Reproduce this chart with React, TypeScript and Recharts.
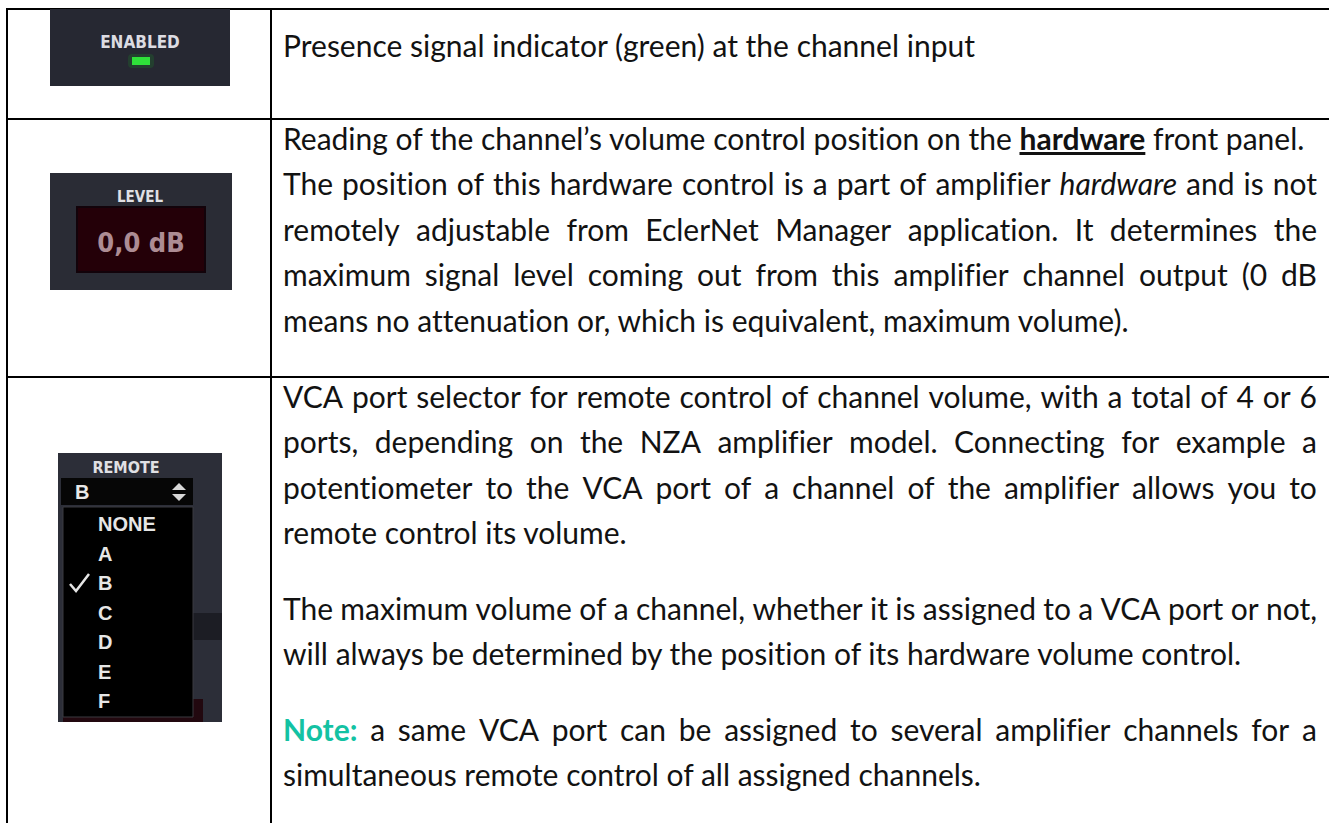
import React from "react"
import { Surface, Rectangle, Text, Polygon, Curve } from "recharts"

// cell texts, one string per printed line
const enabledParagraphs = [["Presence signal indicator (green) at the channel input"]]

const levelParagraphs = [
  ["Reading of the channel’s volume control position on the __hardware__ front panel."],
  [
    "The position of this hardware control is a part of amplifier *hardware* and is not",
    "remotely adjustable from EclerNet Manager application. It determines the",
    "maximum signal level coming out from this amplifier channel output (0 dB",
    "means no attenuation or, which is equivalent, maximum volume).",
  ],
]

const remoteParagraphs = [
  [
    "VCA port selector for remote control of channel volume, with a total of 4 or 6",
    "ports, depending on the NZA amplifier model. Connecting for example a",
    "potentiometer to the VCA port of a channel of the amplifier allows you to",
    "remote control its volume.",
  ],
  [
    "The maximum volume of a channel, whether it is assigned to a VCA port or not,",
    "will always be determined by the position of its hardware volume control.",
  ],
  [
    "!Note:! a same VCA port can be assigned to several amplifier channels for a",
    "simultaneous remote control of all assigned channels.",
  ],
]

const enabledLabel = "ENABLED"
const levelLabel = "LEVEL"
const levelValue = "0,0 dB"
const remoteLabel = "REMOTE"
const remoteOptions = ["NONE", "A", "B", "C", "D", "E", "F"]
const remoteSelected = "B"

const TEXT_X = 283
const TEXT_W = 1034
const LH = 45.5
const FONT = 30
const BASE_OFF = 34.4 // Lato baseline inside a 45.5px line box at 30px
const LINE = "#000"

const uiFont = "'DejaVu Sans Condensed', 'DejaVu Sans', sans-serif"
const listFont = "'Liberation Sans', Arial, sans-serif"

function Word({ token }: { token: string }) {
  if (token.startsWith("__"))
    return <span style={{ fontWeight: 700, textDecoration: "underline" }}>{token.slice(2, -2)}</span>
  if (token.startsWith("*")) return <span style={{ fontStyle: "italic" }}>{token.slice(1, -1)}</span>
  if (token.startsWith("!"))
    return <span style={{ fontWeight: 700, color: "#13c2a3" }}>{token.slice(1, -1)}</span>
  return <span>{token}</span>
}

function TextLine({ text, justify, top }: { text: string; justify: boolean; top: number }) {
  const words = text.split(" ")
  const base: React.CSSProperties = {
    position: "absolute",
    left: TEXT_X,
    top,
    width: TEXT_W,
    height: LH,
    lineHeight: `${LH}px`,
    whiteSpace: "nowrap",
  }
  if (justify) {
    return (
      <div style={{ ...base, display: "flex", justifyContent: "space-between", alignItems: "baseline" }}>
        {words.map((w, i) => (
          <Word key={i} token={w} />
        ))}
      </div>
    )
  }
  return (
    <div style={base}>
      {words.map((w, i) => (
        <React.Fragment key={i}>
          {i > 0 ? " " : null}
          <Word token={w} />
        </React.Fragment>
      ))}
    </div>
  )
}

function Cell({ paragraphs, firstBaseline, gap }: { paragraphs: string[][]; firstBaseline: number; gap: number }) {
  const out: React.ReactNode[] = []
  let y = firstBaseline
  paragraphs.forEach((p, pi) => {
    p.forEach((line, li) => {
      out.push(<TextLine key={`${pi}-${li}`} text={line} justify={li < p.length - 1} top={y - BASE_OFF} />)
      y += LH
    })
    y += gap
  })
  return <>{out}</>
}

function EnabledIcon() {
  return (
    <Surface width={180} height={77} style={{ position: "absolute", left: 50, top: 9 }}>
      <Rectangle x={0} y={0} width={180} height={77} fill="#262832" />
      <Text x={90} y={33} textAnchor="middle" verticalAnchor="middle" fill="#dcdce2" fontSize={17}
        fontWeight={700} fontFamily={uiFont} style={{ fontStretch: "condensed" }}>
        {enabledLabel}
      </Text>
      <Rectangle x={78} y={45} width={26} height={14} fill="#1f6b2a" opacity={0.35} radius={4} />
      <Rectangle x={82} y={48} width={18} height={8} fill="#2fe03a" />
    </Surface>
  )
}

function LevelIcon() {
  return (
    <Surface width={182} height={117} style={{ position: "absolute", left: 50, top: 173 }}>
      <Rectangle x={0} y={0} width={182} height={117} fill="#2a2c35" />
      <Text x={90} y={24} textAnchor="middle" verticalAnchor="middle" fill="#e0e0e4" fontSize={15}
        fontWeight={700} fontFamily={uiFont} style={{ fontStretch: "condensed" }}>
        {levelLabel}
      </Text>
      <Rectangle x={27} y={34} width={128} height={65} fill="#240008" stroke="#12030a" strokeWidth={2} />
      <Text x={91} y={69} textAnchor="middle" verticalAnchor="middle" fill="#ad8c94" fontSize={27}
        fontWeight={700} fontFamily={uiFont} style={{ fontStretch: "condensed" }}>
        {levelValue}
      </Text>
    </Surface>
  )
}

function RemoteIcon() {
  const rowY = (i: number) => 71 + i * 29.5
  const sel = remoteOptions.indexOf(remoteSelected)
  return (
    <Surface width={164} height={269} style={{ position: "absolute", left: 58, top: 453 }}>
      <Rectangle x={0} y={0} width={164} height={269} fill="#2c2e38" />
      <Rectangle x={135} y={160} width={29} height={27} fill="#1c1d24" />
      <Rectangle x={5} y={246} width={140} height={23} fill="#22080f" />
      <Text x={68} y={14} textAnchor="middle" verticalAnchor="middle" fill="#e0e0e4" fontSize={16}
        fontWeight={700} fontFamily={uiFont} style={{ fontStretch: "condensed" }}>
        {remoteLabel}
      </Text>
      <Rectangle x={3} y={25} width={132} height={27} fill="#060606" />
      <Text x={17} y={39} verticalAnchor="middle" fill="#e8e8e8" fontSize={20} fontWeight={700}
        fontFamily={listFont}>
        {remoteSelected}
      </Text>
      <Polygon points={[{ x: 114, y: 37 }, { x: 128, y: 37 }, { x: 121, y: 30 }]} fill="#d8d8d8" />
      <Polygon points={[{ x: 114, y: 41 }, { x: 128, y: 41 }, { x: 121, y: 48 }]} fill="#d8d8d8" />
      <Rectangle x={5} y={54} width={130} height={210} fill="#000" stroke="#3a3a40" strokeWidth={1} />
      {remoteOptions.map((o, i) => (
        <Text key={o} x={40} y={rowY(i)} verticalAnchor="middle" fill="#e6e6e6" fontSize={20}
          fontWeight={700} fontFamily={listFont}>
          {o}
        </Text>
      ))}
      <Curve
        type="linear"
        points={[
          { x: 12, y: rowY(sel) + 1 },
          { x: 18, y: rowY(sel) + 8 },
          { x: 31, y: rowY(sel) - 9 },
        ]}
        stroke="#e6e6e6"
        strokeWidth={2.5}
        fill="none"
      />
    </Surface>
  )
}

export default function App() {
  const hLine = (y: number) => (
    <div style={{ position: "absolute", left: 6, top: y, width: 1330, height: 2, background: LINE }} />
  )
  const vLine = (x: number) => (
    <div style={{ position: "absolute", left: x, top: 8, width: 2, height: 830, background: LINE }} />
  )
  return (
    <div
      style={{
        position: "absolute",
        left: 0,
        top: 0,
        width: 1329,
        height: 823,
        overflow: "hidden",
        background: "#fff",
        fontFamily: "Lato, 'Noto Sans', sans-serif",
        fontSize: FONT,
        fontVariantLigatures: "none",
        color: "#121212",
      }}
    >
      {hLine(8)}
      {hLine(118)}
      {hLine(376)}
      {vLine(6)}
      {vLine(270)}

      <EnabledIcon />
      <LevelIcon />
      <RemoteIcon />

      <Cell paragraphs={enabledParagraphs} firstBaseline={57} gap={0} />
      <Cell paragraphs={levelParagraphs} firstBaseline={150} gap={0} />
      <Cell paragraphs={remoteParagraphs} firstBaseline={408} gap={30} />
    </div>
  )
}
